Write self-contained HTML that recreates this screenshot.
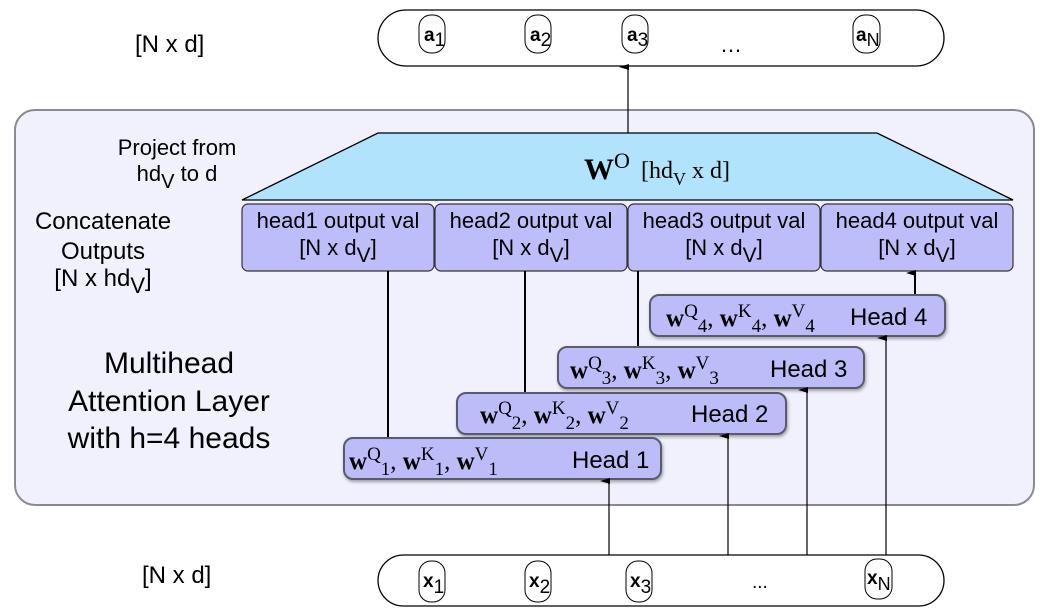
<!DOCTYPE html>
<html><head><meta charset="utf-8"><style>
html,body{margin:0;padding:0;background:#fff;}
svg{display:block;}
.s{font-family:"Liberation Sans",sans-serif;}
.r{font-family:"Liberation Serif",serif;}
</style></head><body>
<svg width="1044" height="613" viewBox="0 0 1044 613" xmlns="http://www.w3.org/2000/svg">
<defs>
<marker id="ar" markerWidth="8" markerHeight="10" refX="4" refY="9" orient="auto" markerUnits="userSpaceOnUse">
<path d="M1,10 L4,0 L7,10 Z" fill="#000"/></marker>
<filter id="sh" x="-5%" y="-20%" width="115%" height="150%"><feDropShadow dx="1" dy="2" stdDeviation="1.5" flood-color="#000" flood-opacity="0.35"/></filter>
</defs>
<rect x="15" y="110" width="1019" height="395" rx="20" fill="#f1f1fd" stroke="#8a8a92" stroke-width="2"/>
<rect x="378" y="10" width="566" height="56" rx="28" fill="#fff" stroke="#000" stroke-width="1.3"/>
<text class="s" x="135" y="52" font-size="24">[N x d]</text>
<g class="s" font-size="19">
<rect x="419" y="15" width="26" height="38" rx="12" fill="#fff" stroke="#000"/><text x="424" y="41"><tspan font-weight="bold">a</tspan><tspan font-size="19" dy="5">1</tspan></text>
<rect x="525" y="15" width="26" height="38" rx="12" fill="#fff" stroke="#000"/><text x="530" y="41"><tspan font-weight="bold">a</tspan><tspan font-size="19" dy="5">2</tspan></text>
<rect x="622" y="15" width="26" height="38" rx="12" fill="#fff" stroke="#000"/><text x="627" y="41"><tspan font-weight="bold">a</tspan><tspan font-size="19" dy="5">3</tspan></text>
<rect x="853" y="15" width="27" height="38" rx="12" fill="#fff" stroke="#000"/><text x="856" y="41"><tspan font-weight="bold">a</tspan><tspan font-size="18" dy="5">N</tspan></text>
<text x="720" y="52" font-size="22">…</text>
</g>
<line x1="628" y1="133" x2="628" y2="67" stroke="#000" stroke-width="1.2" marker-end="url(#ar)"/>
<polygon points="378,133 877,133 1013,200 242,200" fill="#b2e3fc" stroke="#000" stroke-width="1.3"/>
<text class="r" x="584" y="179" font-size="30" font-weight="bold">W<tspan font-weight="normal" font-size="22" dy="-11">O</tspan></text>
<text class="r" x="641" y="178" font-size="24">[hd<tspan font-size="18" dy="7">V</tspan><tspan dy="-7"> x d]</tspan></text>
<g class="s" text-anchor="middle">
<text x="177" y="155" font-size="22">Project from</text>
<text x="177" y="181" font-size="22">hd<tspan font-size="20" dy="7">V</tspan><tspan dy="-7"> to d</tspan></text>
<text x="103" y="229" font-size="24">Concatenate</text>
<text x="103" y="259" font-size="24">Outputs</text>
<text x="103" y="286" font-size="24">[N x hd<tspan font-size="22" dy="7">V</tspan><tspan dy="-7">]</tspan></text>
</g>
<g class="s" font-size="30" text-anchor="middle">
<text x="169" y="373">Multihead</text>
<text x="169" y="411">Attention Layer</text>
<text x="169" y="448">with h=4 heads</text>
</g>
<g class="s" font-size="22" text-anchor="middle">
<rect x="242" y="204" width="192" height="67" rx="6" fill="#bdbdf9" stroke="#333" stroke-width="1.2"/>
<text x="338" y="228">head1 output val</text><text x="338" y="255">[N x d<tspan font-size="21" dy="7">V</tspan><tspan dy="-7">]</tspan></text>
<rect x="435" y="204" width="192" height="67" rx="6" fill="#bdbdf9" stroke="#333" stroke-width="1.2"/>
<text x="531" y="228">head2 output val</text><text x="531" y="255">[N x d<tspan font-size="21" dy="7">V</tspan><tspan dy="-7">]</tspan></text>
<rect x="628" y="204" width="192" height="67" rx="6" fill="#bdbdf9" stroke="#333" stroke-width="1.2"/>
<text x="724" y="228">head3 output val</text><text x="724" y="255">[N x d<tspan font-size="21" dy="7">V</tspan><tspan dy="-7">]</tspan></text>
<rect x="821" y="204" width="192" height="67" rx="6" fill="#bdbdf9" stroke="#333" stroke-width="1.2"/>
<text x="917" y="228">head4 output val</text><text x="917" y="255">[N x d<tspan font-size="21" dy="7">V</tspan><tspan dy="-7">]</tspan></text>
</g>
<g stroke="#000" stroke-width="2">
<line x1="388" y1="271" x2="388" y2="438"/>
<line x1="525" y1="271" x2="525" y2="393"/>
<line x1="638" y1="271" x2="638" y2="347"/>
</g>
<line x1="915" y1="295" x2="915" y2="273" stroke="#000" stroke-width="2" marker-end="url(#ar)"/>
<g font-size="25">
<rect x="650" y="295" width="295" height="41" rx="9" fill="#bcbcf9" stroke="#5a5a6e" stroke-width="2" filter="url(#sh)"/>
<text class="r" x="666" y="326"><tspan font-weight="bold">w</tspan><tspan font-size="19" dy="-9">Q</tspan><tspan font-size="19" dy="15">4</tspan><tspan dy="-6">, </tspan><tspan font-weight="bold">w</tspan><tspan font-size="19" dy="-9">K</tspan><tspan font-size="19" dy="15">4</tspan><tspan dy="-6">, </tspan><tspan font-weight="bold">w</tspan><tspan font-size="19" dy="-9">V</tspan><tspan font-size="19" dy="15">4</tspan></text>
<text class="s" x="850" y="325" font-size="24">Head 4</text>
<rect x="558" y="347" width="306" height="41" rx="9" fill="#bcbcf9" stroke="#5a5a6e" stroke-width="2" filter="url(#sh)"/>
<text class="r" x="570" y="378"><tspan font-weight="bold">w</tspan><tspan font-size="19" dy="-9">Q</tspan><tspan font-size="19" dy="15">3</tspan><tspan dy="-6">, </tspan><tspan font-weight="bold">w</tspan><tspan font-size="19" dy="-9">K</tspan><tspan font-size="19" dy="15">3</tspan><tspan dy="-6">, </tspan><tspan font-weight="bold">w</tspan><tspan font-size="19" dy="-9">V</tspan><tspan font-size="19" dy="15">3</tspan></text>
<text class="s" x="770" y="377" font-size="24">Head 3</text>
<rect x="457" y="393" width="329" height="41" rx="9" fill="#bcbcf9" stroke="#5a5a6e" stroke-width="2" filter="url(#sh)"/>
<text class="r" x="480" y="423"><tspan font-weight="bold">w</tspan><tspan font-size="19" dy="-9">Q</tspan><tspan font-size="19" dy="15">2</tspan><tspan dy="-6">, </tspan><tspan font-weight="bold">w</tspan><tspan font-size="19" dy="-9">K</tspan><tspan font-size="19" dy="15">2</tspan><tspan dy="-6">, </tspan><tspan font-weight="bold">w</tspan><tspan font-size="19" dy="-9">V</tspan><tspan font-size="19" dy="15">2</tspan></text>
<text class="s" x="691" y="422" font-size="24">Head 2</text>
<rect x="344" y="438" width="317" height="41" rx="9" fill="#bcbcf9" stroke="#5a5a6e" stroke-width="2" filter="url(#sh)"/>
<text class="r" x="349" y="469"><tspan font-weight="bold">w</tspan><tspan font-size="19" dy="-9">Q</tspan><tspan font-size="19" dy="15">1</tspan><tspan dy="-6">, </tspan><tspan font-weight="bold">w</tspan><tspan font-size="19" dy="-9">K</tspan><tspan font-size="19" dy="15">1</tspan><tspan dy="-6">, </tspan><tspan font-weight="bold">w</tspan><tspan font-size="19" dy="-9">V</tspan><tspan font-size="19" dy="15">1</tspan></text>
<text class="s" x="572" y="468" font-size="24">Head 1</text>
</g>
<g stroke="#000" stroke-width="1.2">
<line x1="609" y1="555" x2="609" y2="481" marker-end="url(#ar)"/>
<line x1="728" y1="555" x2="728" y2="436" marker-end="url(#ar)"/>
<line x1="807" y1="555" x2="807" y2="390" marker-end="url(#ar)"/>
<line x1="886" y1="555" x2="886" y2="338" marker-end="url(#ar)"/>
</g>
<rect x="378" y="555" width="566" height="51" rx="25.5" fill="#fff" stroke="#000" stroke-width="1.3"/>
<text class="s" x="142" y="583" font-size="24">[N x d]</text>
<g class="s" font-size="19">
<rect x="419" y="561" width="26" height="41" rx="12" fill="#fff" stroke="#000"/><text x="423" y="587"><tspan font-weight="bold">x</tspan><tspan dy="6">1</tspan></text>
<rect x="525" y="561" width="26" height="41" rx="12" fill="#fff" stroke="#000"/><text x="529" y="587"><tspan font-weight="bold">x</tspan><tspan dy="6">2</tspan></text>
<rect x="626" y="561" width="26" height="41" rx="12" fill="#fff" stroke="#000"/><text x="630" y="587"><tspan font-weight="bold">x</tspan><tspan dy="6">3</tspan></text>
<rect x="865" y="559" width="27" height="40" rx="12" fill="#fff" stroke="#000"/><text x="867" y="584"><tspan font-weight="bold">x</tspan><tspan font-size="18" dy="6">N</tspan></text>
<text x="752" y="588" font-size="19">...</text>
</g>
</svg>
</body></html>
